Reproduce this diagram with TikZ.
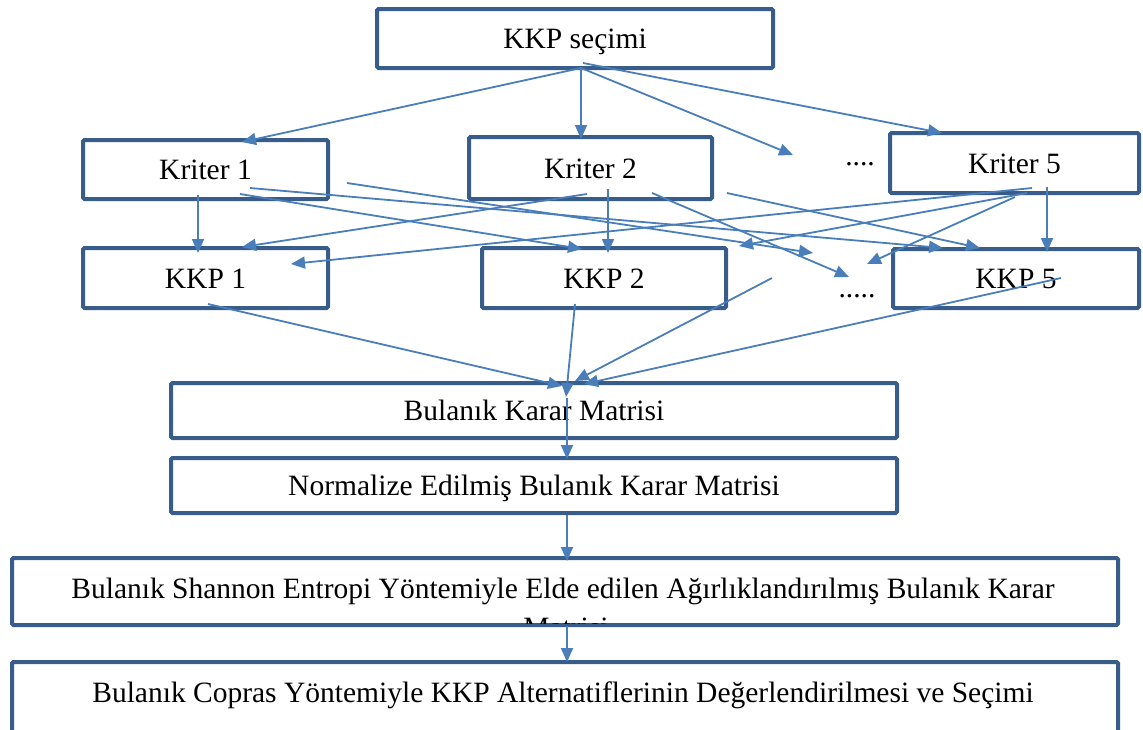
\documentclass[tikz,border=0pt]{standalone}
\usepackage{fontspec}
\setmainfont{Liberation Serif}
\usetikzlibrary{arrows.meta}
\definecolor{boxc}{RGB}{56,93,138}
\definecolor{arrc}{RGB}{74,126,187}
\begin{document}
\begin{tikzpicture}[x=1pt,y=-1pt,
  box/.style={draw=boxc,line width=4pt,fill=white,rounded corners=1.5pt,inner sep=0pt,
    text height=20pt,text depth=0pt,font=\fontsize{29.5}{34}\selectfont},
  txt/.style={inner sep=0pt,font=\fontsize{29.5}{34}\selectfont},
  conn/.style={draw=arrc,line width=1.8pt,-{Triangle[length=14pt,width=12pt]}}]
\useasboundingbox (0,0) rectangle (1143,729);
\clip (0,0) rectangle (1143,729);
% boxes
\node[box,minimum width=396pt,minimum height=59pt] (top) at (575,38.5) {KKP seçimi};
\node[box,minimum width=245pt,minimum height=59pt] (k1) at (205.5,169.5) {Kriter 1};
\node[box,minimum width=243pt,minimum height=62pt] (k2) at (590.5,168) {Kriter 2};
\node[box,minimum width=249pt,minimum height=60pt] (k5) at (1014.5,163) {Kriter 5};
\node[txt,anchor=base] (dk) at (860,165) {....};
\node[box,minimum width=245pt,minimum height=60pt] (p1) at (205.5,278) {KKP 1};
\node[box,minimum width=244pt,minimum height=60pt] (p2) at (604,278) {KKP 2};
\node[box,minimum width=246pt,minimum height=59pt] (p5) at (1016,278.5) {KKP 5};
\node[txt,anchor=base] (dp) at (857,297) {.....};
\node[box,minimum width=726pt,minimum height=55pt] (bkm) at (534,410.5) {Bulanık Karar Matrisi};
\node[box,minimum width=726pt,minimum height=55pt] (norm) at (534,485.5) {Normalize Edilmiş Bulanık Karar Matrisi};
\node[box,minimum width=1106pt,minimum height=67pt] (shan) at (565,591.5) {};
\node[txt,anchor=base] (shant) at (563,598) {Bulanık Shannon Entropi Yöntemiyle Elde edilen Ağırlıklandırılmış Bulanık Karar};
\begin{scope}
\clip (14,560) rectangle (1116,623);
\node[txt,anchor=base] (shant2) at (566,637) {Matrisi};
\end{scope}
\node[box,minimum width=1106pt,minimum height=90pt] (cop) at (565,707) {};
\node[txt,anchor=base] (copt) at (563,702) {Bulanık Copras Yöntemiyle KKP Alternatiflerinin Değerlendirilmesi ve Seçimi};
% connector end points
\coordinate (tS) at (581,68);
\coordinate (tS2) at (583,63);
\coordinate (k1T) at (242,142);
\coordinate (k2T) at (581,139);
\coordinate (dkA) at (793,155);
\coordinate (k5T) at (942,133);
\coordinate (k1a) at (198,195);
\coordinate (k1b) at (250,188);
\coordinate (k1c) at (240,194);
\coordinate (k1d) at (347,183);
\coordinate (p1T) at (198,253);
\coordinate (p5a) at (943,248);
\coordinate (p2a) at (582,249);
\coordinate (dpA) at (813,253);
\coordinate (k2a) at (608,189);
\coordinate (p2T) at (608,253);
\coordinate (k2b) at (587,194);
\coordinate (p1a) at (242,247);
\coordinate (k2c) at (652,193);
\coordinate (dpB) at (849,277);
\coordinate (k2d) at (727,193);
\coordinate (p5b) at (980,248);
\coordinate (k5a) at (1047,187);
\coordinate (p5T) at (1047,252);
\coordinate (k5b) at (1032,188);
\coordinate (p1b) at (291,264);
\coordinate (k5c) at (1027,193);
\coordinate (p2b) at (739,246);
\coordinate (k5d) at (1015,197);
\coordinate (dpC) at (867,264);
\coordinate (p1s) at (208,304);
\coordinate (bA) at (562,386);
\coordinate (p2s) at (575,304);
\coordinate (bB) at (566,397);
\coordinate (dpS) at (772,278);
\coordinate (bC) at (575,381);
\coordinate (p5s) at (1061,278);
\coordinate (bD) at (584,384);
\coordinate (bS) at (567,398);
\coordinate (nT) at (567,459);
\coordinate (nS) at (567,515);
\coordinate (sT) at (567,561);
\coordinate (sS) at (567,626);
\coordinate (cT) at (567,662);
% connectors
\draw[conn] (tS) -- (k1T);
\draw[conn] (tS) -- (k2T);
\draw[conn] (tS) -- (dkA);
\draw[conn] (tS2) -- (k5T);
\draw[conn] (k1a) -- (p1T);
\draw[conn] (k1b) -- (p5a);
\draw[conn] (k1c) -- (p2a);
\draw[conn] (k1d) -- (dpA);
\draw[conn] (k2a) -- (p2T);
\draw[conn] (k2b) -- (p1a);
\draw[conn] (k2c) -- (dpB);
\draw[conn] (k2d) -- (p5b);
\draw[conn] (k5a) -- (p5T);
\draw[conn] (k5b) -- (p1b);
\draw[conn] (k5c) -- (p2b);
\draw[conn] (k5d) -- (dpC);
\draw[conn] (p1s) -- (bA);
\draw[conn] (p2s) -- (bB);
\draw[conn] (dpS) -- (bC);
\draw[conn] (p5s) -- (bD);
\draw[conn] (bS) -- (nT);
\draw[conn] (nS) -- (sT);
\draw[conn] (sS) -- (cT);
\end{tikzpicture}
\end{document}
